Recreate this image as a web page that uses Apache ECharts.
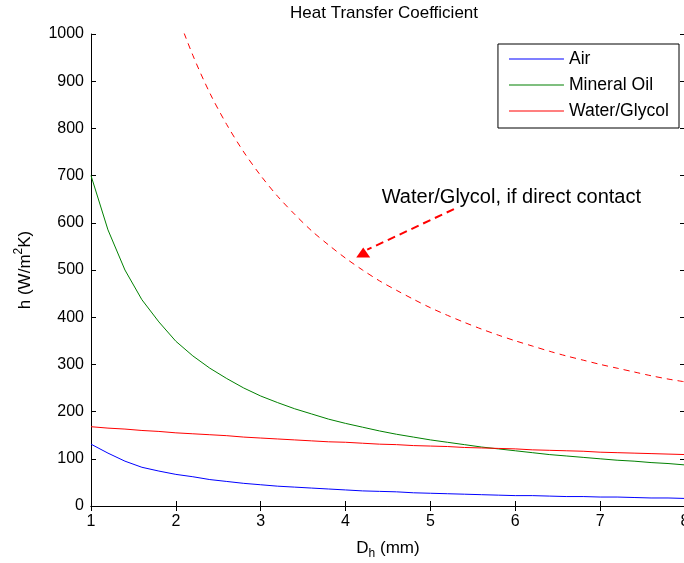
<!DOCTYPE html>
<html>
<head>
<meta charset="utf-8">
<script src="https://cdn.jsdelivr.net/npm/echarts@6/dist/echarts.min.js"></script>
<style>html,body{margin:0;padding:0;background:#fff}#c{width:684px;height:563px}</style>
</head>
<body>
<div id="c"></div>
<script>
var dh = [1.0,1.2,1.4,1.6,1.8,2.0,2.2,2.4,2.6,2.8,3.0,3.2,3.4,3.6,3.8,4.0,4.2,4.4,4.6,4.8,5.0,5.2,5.4,5.6,5.8,6.0,6.2,6.4,6.6,6.8,7.0,7.2,7.4,7.6,7.8,8.0];
var air = [131,112,95,82,74,67,62,56,52,48,45,42,40,38,36,34,32,31,30,28,27,26,25,24,23,22,22,21,20,20,19,19,18,17,17,16];
var mineralOil = [700,585,500,437,390,349,318,292,270,250,233,219,206,195,184,175,167,159,152,146,140,135,130,125,121,117,113,109,106,103,100,97,95,92,90,87];
var waterGlycol = [168,165,163,160,158,155,153,151,149,146,144,142,140,138,136,135,133,131,130,128,127,126,124,123,122,121,119,118,117,116,114,113,112,111,110,109];
var waterGlycolDirect = [2100,1750,1500,1312,1167,1050,955,875,808,750,700,656,618,583,553,525,500,477,457,438,420,404,389,375,362,350,339,328,318,309,300,292,284,276,269,263];
var xTicks = [1,2,3,4,5,6,7,8];
var yTicks = [0,100,200,300,400,500,600,700,800,900,1000];
var annotationText = 'Water/Glycol, if direct contact';
var annotationAnchor = [4.42, 653];
var arrowFrom = [5.277, 629];
var arrowTo = [4.255, 543];
var arrowHead = [4.208, 537];

function pairs(ys){ return dh.map(function(x,i){ return [x, ys[i]]; }); }
var FONT = '"Liberation Sans", Arial, Helvetica, sans-serif';
var chart = echarts.init(document.getElementById('c'));
var axisCommon = {
  type: 'value',
  axisLine: {show: true, lineStyle: {color: '#000', width: 1}},
  axisTick: {show: true, inside: true, length: 5, lineStyle: {color: '#000'}},
  splitLine: {show: false}
};
chart.setOption({
  animation: false,
  backgroundColor: '#fff',
  title: {
    text: 'Heat Transfer Coefficient',
    left: 290, top: 5, padding: 0,
    textStyle: {fontFamily: FONT, fontSize: 17, fontWeight: 'normal', color: '#000'}
  },
  legend: {
    data: ['Air', 'Mineral Oil', 'Water/Glycol'],
    orient: 'vertical',
    right: 5, top: 44,
    padding: [5, 10, 7, 11],
    icon: 'rect',
    itemWidth: 55, itemHeight: 1, itemGap: 6,
    backgroundColor: '#fff', borderColor: '#000', borderWidth: 1, borderRadius: 0,
    textStyle: {fontFamily: FONT, fontSize: 17.6, color: '#000', lineHeight: 20}
  },
  grid: {left: 91, right: -1, top: 34, bottom: 57, containLabel: false, outerBoundsMode: 'none'},
  xAxis: [
    Object.assign({}, axisCommon, {
      position: 'bottom', min: 1, max: 8, interval: 1,
      axisLabel: {show: true, margin: 8, color: '#000', fontFamily: FONT, fontSize: 16,
        formatter: function(v){ return xTicks.indexOf(v) >= 0 ? String(v) : ''; }},
      name: 'D{sub|h} (mm)', nameLocation: 'middle', nameGap: 30,
      nameTextStyle: {fontFamily: FONT, fontSize: 17, color: '#000', lineHeight: 24,
        rich: {sub: {fontFamily: FONT, fontSize: 12, color: '#000', verticalAlign: 'bottom', lineHeight: 24}}}
    }),
    Object.assign({}, axisCommon, {
      position: 'top', min: 1, max: 8, interval: 1, axisLabel: {show: false}
    })
  ],
  yAxis: [
    Object.assign({}, axisCommon, {
      position: 'left', min: 0, max: 1000, interval: 100,
      axisLabel: {show: true, margin: 7, color: '#000', fontFamily: FONT, fontSize: 16,
        formatter: function(v){ return yTicks.indexOf(v) >= 0 ? String(v) : ''; }},
      name: 'h (W/m{sup|2}K)', nameLocation: 'middle', nameGap: 54, nameRotate: 90,
      nameTextStyle: {fontFamily: FONT, fontSize: 17, color: '#000', lineHeight: 24,
        rich: {sup: {fontFamily: FONT, fontSize: 12, color: '#000', verticalAlign: 'top', lineHeight: 24}}}
    }),
    Object.assign({}, axisCommon, {
      position: 'right', min: 0, max: 1000, interval: 100, axisLabel: {show: false}
    })
  ],
  series: [
    {name: 'Air', type: 'line', data: pairs(air), symbol: 'none', smooth: false,
      lineStyle: {color: '#0000ff', width: 1}, itemStyle: {color: '#0000ff'}},
    {name: 'Mineral Oil', type: 'line', data: pairs(mineralOil), symbol: 'none',
      lineStyle: {color: '#008000', width: 1}, itemStyle: {color: '#008000'}},
    {name: 'Water/Glycol', type: 'line', data: pairs(waterGlycol), symbol: 'none',
      lineStyle: {color: '#ff0000', width: 1}, itemStyle: {color: '#ff0000'}},
    {name: 'Water/Glycol, if direct contact', type: 'line', data: pairs(waterGlycolDirect), symbol: 'none',
      clip: true, smooth: 0.3,
      lineStyle: {color: '#ff0000', width: 1, type: [6, 5]}, itemStyle: {color: '#ff0000'},
      markLine: {
        silent: true, symbol: ['none', 'none'], animation: false,
        label: {show: false},
        lineStyle: {color: '#ff0000', width: 2, type: [8, 5]},
        data: [[{coord: arrowFrom}, {coord: arrowTo}]]
      },
      markPoint: {
        silent: true, animation: false,
        data: [
          {coord: arrowHead, symbol: 'triangle', symbolSize: [14, 10],
            itemStyle: {color: '#ff0000'}, label: {show: false}},
          {coord: annotationAnchor, symbol: 'rect', symbolSize: [1, 1],
            itemStyle: {color: 'rgba(0,0,0,0)'},
            label: {show: true, position: 'right', distance: 0, formatter: annotationText,
              fontFamily: FONT, fontSize: 20, color: '#000'}}
        ]
      }
    }
  ]
});
</script>
</body>
</html>
